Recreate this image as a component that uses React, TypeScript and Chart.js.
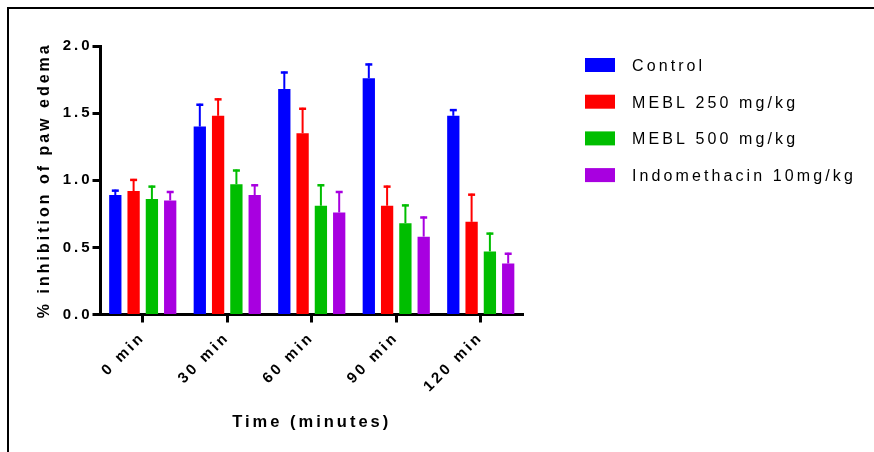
import React, { useEffect, useRef } from 'react';
import { Chart, registerables } from 'chart.js';

Chart.register(...registerables);

const categories = ['0 min', '30 min', '60 min', '90 min', '120 min'];
const seriesNames = ['Control', 'MEBL 250 mg/kg', 'MEBL 500 mg/kg', 'Indomethacin 10mg/kg'];
const controlValues = [0.89, 1.4, 1.68, 1.76, 1.48];
const mebl250Values = [0.92, 1.48, 1.35, 0.81, 0.69];
const mebl500Values = [0.86, 0.97, 0.81, 0.68, 0.47];
const indoValues = [0.85, 0.89, 0.76, 0.58, 0.38];
const controlErrors = [0.04, 0.17, 0.13, 0.11, 0.05];
const mebl250Errors = [0.09, 0.13, 0.19, 0.15, 0.21];
const mebl500Errors = [0.1, 0.11, 0.16, 0.14, 0.14];
const indoErrors = [0.07, 0.08, 0.16, 0.15, 0.08];
const seriesColors = ['#0000FF', '#FF0000', '#00BE00', '#A800E0'];
const yTickLabels = ['0.0', '0.5', '1.0', '1.5', '2.0'];
const yAxisTitle = '% inhibition of paw edema';
const xAxisTitle = 'Time (minutes)';

const seriesValues = [controlValues, mebl250Values, mebl500Values, indoValues];
const seriesErrors = [controlErrors, mebl250Errors, mebl500Errors, indoErrors];

const FONT = '"Liberation Sans", Arial, Helvetica, sans-serif';

const spacingPlugin = {
  id: 'spacing',
  beforeLayout(chart: any) {
    chart.ctx.letterSpacing = '3px';
  },
  beforeDraw(chart: any) {
    chart.ctx.letterSpacing = '3px';
  },
};

const framePlugin = {
  id: 'frame',
  beforeDraw(chart: any) {
    const ctx = chart.ctx;
    ctx.save();
    ctx.fillStyle = '#fff';
    ctx.fillRect(0, 0, chart.width, chart.height);
    ctx.fillStyle = '#000';
    ctx.fillRect(7, 7, chart.width - 7, 2);
    ctx.fillRect(7, 7, 2, chart.height - 7);
    ctx.restore();
  },
};

const errorBarPlugin = {
  id: 'errorBars',
  afterDatasetsDraw(chart: any) {
    const ctx = chart.ctx;
    const yScale = chart.scales.y;
    chart.data.datasets.forEach((ds: any, di: number) => {
      const meta = chart.getDatasetMeta(di);
      const errs = seriesErrors[di];
      meta.data.forEach((bar: any, i: number) => {
        const v = ds.data[i];
        const top = yScale.getPixelForValue(v + errs[i]);
        ctx.save();
        ctx.strokeStyle = ds.backgroundColor;
        ctx.lineWidth = 2;
        ctx.beginPath();
        ctx.moveTo(bar.x, bar.y);
        ctx.lineTo(bar.x, top);
        ctx.stroke();
        ctx.lineWidth = 2.5;
        ctx.beginPath();
        ctx.moveTo(bar.x - 3.5, top + 1);
        ctx.lineTo(bar.x + 3.5, top + 1);
        ctx.stroke();
        ctx.restore();
      });
    });
  },
};

const legendPlugin = {
  id: 'customLegend',
  afterDraw(chart: any) {
    const ctx = chart.ctx;
    ctx.save();
    ctx.letterSpacing = '3.1px';
    ctx.font = '16px ' + FONT;
    ctx.textBaseline = 'middle';
    ctx.textAlign = 'left';
    chart.data.datasets.forEach((ds: any, i: number) => {
      const cy = 65 + i * 36.7;
      ctx.fillStyle = ds.backgroundColor;
      ctx.fillRect(585, cy - 7, 30, 14);
      ctx.fillStyle = '#000';
      ctx.fillText(ds.label, 632, cy + 1.5);
    });
    ctx.restore();
  },
};

export default function App() {
  const ref = useRef<HTMLCanvasElement>(null);

  useEffect(() => {
    if (!ref.current) return;
    Chart.defaults.font.family = FONT;
    Chart.defaults.color = '#000';
    const chart = new Chart(ref.current, {
      type: 'bar',
      data: {
        labels: categories,
        datasets: seriesNames.map((name, i) => ({
          label: name,
          data: seriesValues[i],
          backgroundColor: seriesColors[i],
          borderWidth: 0,
          barPercentage: 0.672,
          categoryPercentage: 0.866,
        })),
      },
      options: {
        responsive: false,
        animation: false,
        devicePixelRatio: 1,
        layout: { padding: { left: 31, top: 46, right: 351, bottom: 16 } },
        plugins: {
          legend: { display: false },
          tooltip: { enabled: false },
        },
        scales: {
          x: {
            grid: {
              display: true,
              drawOnChartArea: false,
              drawTicks: true,
              tickLength: 8,
              tickWidth: 3,
              tickColor: '#000',
              offset: false,
            },
            border: { display: true, color: '#000', width: 3 },
            ticks: {
              minRotation: 45,
              maxRotation: 45,
              color: '#000',
              padding: 6,
              font: { family: FONT, size: 15, weight: 'bold' },
            },
            title: {
              display: true,
              text: xAxisTitle,
              color: '#000',
              font: { family: FONT, size: 16.5, weight: 'bold' },
              padding: { top: 4, bottom: 4 },
            },
            afterFit: (s: any) => {
              s.height = 121.5;
            },
          },
          y: {
            min: 0,
            max: 2,
            grid: {
              display: true,
              drawOnChartArea: false,
              drawTicks: true,
              tickLength: 8,
              tickWidth: 3,
              tickColor: '#000',
            },
            border: { display: true, color: '#000', width: 3 },
            ticks: {
              stepSize: 0.5,
              color: '#000',
              padding: 0,
              font: { family: FONT, size: 15, weight: 'bold' },
              callback: (_v: any, idx: number) => yTickLabels[idx],
            },
            title: {
              display: true,
              text: yAxisTitle,
              color: '#000',
              font: { family: FONT, size: 16, weight: 'bold' },
              padding: { top: 4, bottom: 4 },
            },
            afterFit: (s: any) => {
              s.width = 69.5;
            },
          },
        },
      },
      plugins: [spacingPlugin, framePlugin, errorBarPlugin, legendPlugin],
    } as any);
    return () => chart.destroy();
  }, []);

  return (
    <div style={{ position: 'absolute', left: 0, top: 0, width: 874, height: 452, background: '#fff' }}>
      <canvas ref={ref} width={874} height={452} style={{ display: 'block', width: 874, height: 452 }} />
    </div>
  );
}
